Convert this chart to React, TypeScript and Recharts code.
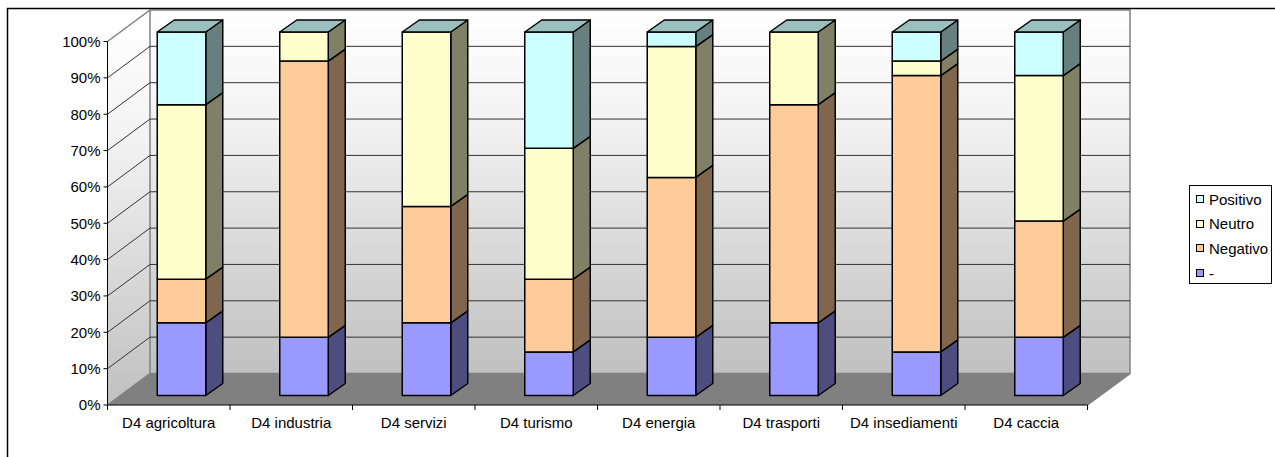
import { Bar, BarChart, CartesianGrid, Legend, XAxis, YAxis } from "recharts";

const categories = [
  "D4 agricoltura",
  "D4 industria",
  "D4 servizi",
  "D4 turismo",
  "D4 energia",
  "D4 trasporti",
  "D4 insediamenti",
  "D4 caccia",
];
const dash = [20, 16, 20, 12, 16, 20, 12, 16];
const negativo = [12, 76, 32, 20, 44, 60, 76, 32];
const neutro = [48, 8, 48, 36, 36, 20, 4, 40];
const positivo = [20, 0, 0, 32, 4, 0, 8, 12];
const percentTicks = [0, 10, 20, 30, 40, 50, 60, 70, 80, 90, 100];

const data = categories.map((name, i) => ({
  name,
  dash: dash[i],
  negativo: negativo[i],
  neutro: neutro[i],
  positivo: positivo[i],
}));

const WIDTH = 1275;
const HEIGHT = 457;
const LEFT = 107.5;
const RIGHT = 1087.5;
const TOP = 41.5;
const BOTTOM = 405;
// oblique offset from the front plane to the back wall
const WALL_DX = 42.5;
const WALL_DY = 31.5;
// oblique depth of a column, and how far it sits from the front plane
const BAR_DX = 17;
const BAR_DY = 12;
const BAR_SHIFT_X = 12.75;
const BAR_SHIFT_Y = 9.5;
const BAND = (RIGHT - LEFT) / categories.length;
const FONT = "'Liberation Sans', Arial, sans-serif";
const FONT_SIZE = 15;

function Walls() {
  const bx = LEFT + WALL_DX;
  const ex = RIGHT + WALL_DX;
  const ty = TOP - WALL_DY;
  const by = BOTTOM - WALL_DY;
  return (
    <g>
      <defs>
        <linearGradient id="wall" gradientUnits="userSpaceOnUse" x1="0" y1={ty} x2="0" y2={by}>
          <stop offset="0%" stopColor="#ffffff" />
          <stop offset="30%" stopColor="#f3f3f3" />
          <stop offset="100%" stopColor="#c0c0c0" />
        </linearGradient>
        <linearGradient id="sideWall" gradientUnits="userSpaceOnUse" x1="0" y1={ty + 10} x2="0" y2={BOTTOM}>
          <stop offset="0%" stopColor="#ffffff" />
          <stop offset="30%" stopColor="#f3f3f3" />
          <stop offset="100%" stopColor="#c0c0c0" />
        </linearGradient>
      </defs>
      <path
        d={`M${LEFT} ${TOP}L${bx} ${ty}V${by}L${LEFT} ${BOTTOM}Z`}
        fill="url(#sideWall)"
      />
      <rect x={bx} y={ty} width={ex - bx} height={by - ty} fill="url(#wall)" />
      <path
        d={`M${LEFT} ${BOTTOM}L${bx} ${by}H${ex}L${RIGHT} ${BOTTOM}Z`}
        fill="#808080"
      />
      <path
        d={`M${LEFT} ${TOP}L${bx} ${ty}H${ex}V${by}L${RIGHT} ${BOTTOM}M${bx} ${ty}V${by}L${LEFT} ${BOTTOM}M${bx} ${by}H${ex}`}
        fill="none"
        stroke="#808080"
        strokeWidth={1.5}
      />
    </g>
  );
}

// the walls go in with the first line so every gridline sits on top of them;
// a gridline runs up the side wall, then across the back wall
function gridLine(props: any) {
  const { x1, x2, y1, index } = props;
  const inner = y1 < BOTTOM - 1 && y1 > TOP + 1;
  return (
    <g key={index}>
      {index === 0 && <Walls />}
      {inner && (
        <path
          d={`M${x1} ${y1}L${x1 + WALL_DX} ${y1 - WALL_DY}H${x2 + WALL_DX}`}
          fill="none"
          stroke="#333"
          strokeWidth={1}
        />
      )}
    </g>
  );
}

function column(fill: string, side: string, top?: string) {
  return (props: any) => {
    const { x, y, width, height } = props;
    const fx = x + BAR_SHIFT_X;
    const fy = y - BAR_SHIFT_Y;
    const rx = fx + width;
    return (
      <g stroke="#000" strokeWidth={1.5} strokeLinejoin="round">
        {height > 0 && (
          <>
            <path
              d={`M${rx} ${fy}l${BAR_DX} ${-BAR_DY}v${height}l${-BAR_DX} ${BAR_DY}Z`}
              fill={side}
            />
            <rect x={fx} y={fy} width={width} height={height} fill={fill} />
          </>
        )}
        {top && (
          <path
            d={`M${fx} ${fy}l${BAR_DX} ${-BAR_DY}h${width}l${-BAR_DX} ${BAR_DY}Z`}
            fill={top}
          />
        )}
      </g>
    );
  };
}

function CategoryTick(props: any) {
  const { x, y, payload, index } = props;
  return (
    <g>
      {index === 0 && <line x1={x - BAND / 2} x2={x - BAND / 2} y1={BOTTOM} y2={BOTTOM + 5} stroke="#000" />}
      <line x1={x + BAND / 2} x2={x + BAND / 2} y1={BOTTOM} y2={BOTTOM + 5} stroke="#000" />
      <text x={x} y={y + 15} textAnchor="middle" fontSize={FONT_SIZE} fill="#000" fontFamily={FONT}>
        {payload.value}
      </text>
    </g>
  );
}

function LegendBox(props: any) {
  const items = [...(props.payload ?? [])].reverse();
  return (
    <div
      style={{
        width: 83,
        height: 99,
        boxSizing: "border-box",
        border: "1px solid #000",
        background: "#fff",
        padding: "1px 0 0 6px",
        fontSize: FONT_SIZE,
        fontFamily: FONT,
        color: "#000",
      }}
    >
      {items.map((item: any) => (
        <div key={item.value} style={{ height: 24.6, display: "flex", alignItems: "center" }}>
          <span
            style={{
              width: 8,
              height: 8,
              boxSizing: "border-box",
              border: "1px solid #000",
              background: item.color,
              marginRight: 5,
            }}
          />
          {item.value}
        </div>
      ))}
    </div>
  );
}

export default function App() {
  return (
    <div style={{ position: "absolute", left: 0, top: 0, width: WIDTH, height: HEIGHT, background: "#fff" }}>
      <BarChart
        width={WIDTH}
        height={HEIGHT}
        data={data}
        margin={{ top: TOP, right: WIDTH - RIGHT, bottom: 0, left: 0 }}
        barSize={48.5}
      >
        <path d={`M7.5 ${HEIGHT}V8.5H${WIDTH}`} fill="none" stroke="#000" strokeWidth={1.5} />
        <CartesianGrid vertical={false} horizontal={gridLine} />
        <XAxis
          dataKey="name"
          interval={0}
          stroke="#000"
          tickLine={false}
          tick={<CategoryTick />}
          height={HEIGHT - BOTTOM}
        />
        <YAxis
          domain={[0, 100]}
          ticks={percentTicks}
          width={LEFT}
          stroke="#000"
          tickSize={4}
          tickMargin={3}
          tick={{ fontSize: FONT_SIZE, fill: "#000", fontFamily: FONT }}
          tickFormatter={(v: number) => `${v}%`}
        />
        <Legend
          layout="vertical"
          align="center"
          verticalAlign="middle"
          content={<LegendBox />}
          wrapperStyle={{ left: 1189, top: 185, width: 83, height: 99 }}
        />
        <Bar dataKey="dash" name="-" stackId="a" fill="#9999ff" isAnimationActive={false} shape={column("#9999ff", "#4d4d80")} />
        <Bar dataKey="negativo" name="Negativo" stackId="a" fill="#ffcc99" isAnimationActive={false} shape={column("#ffcc99", "#80664d")} />
        <Bar dataKey="neutro" name="Neutro" stackId="a" fill="#ffffcc" isAnimationActive={false} shape={column("#ffffcc", "#808066")} />
        <Bar dataKey="positivo" name="Positivo" stackId="a" fill="#ccffff" isAnimationActive={false} shape={column("#ccffff", "#668080", "#99bfbf")} />
      </BarChart>
    </div>
  );
}
